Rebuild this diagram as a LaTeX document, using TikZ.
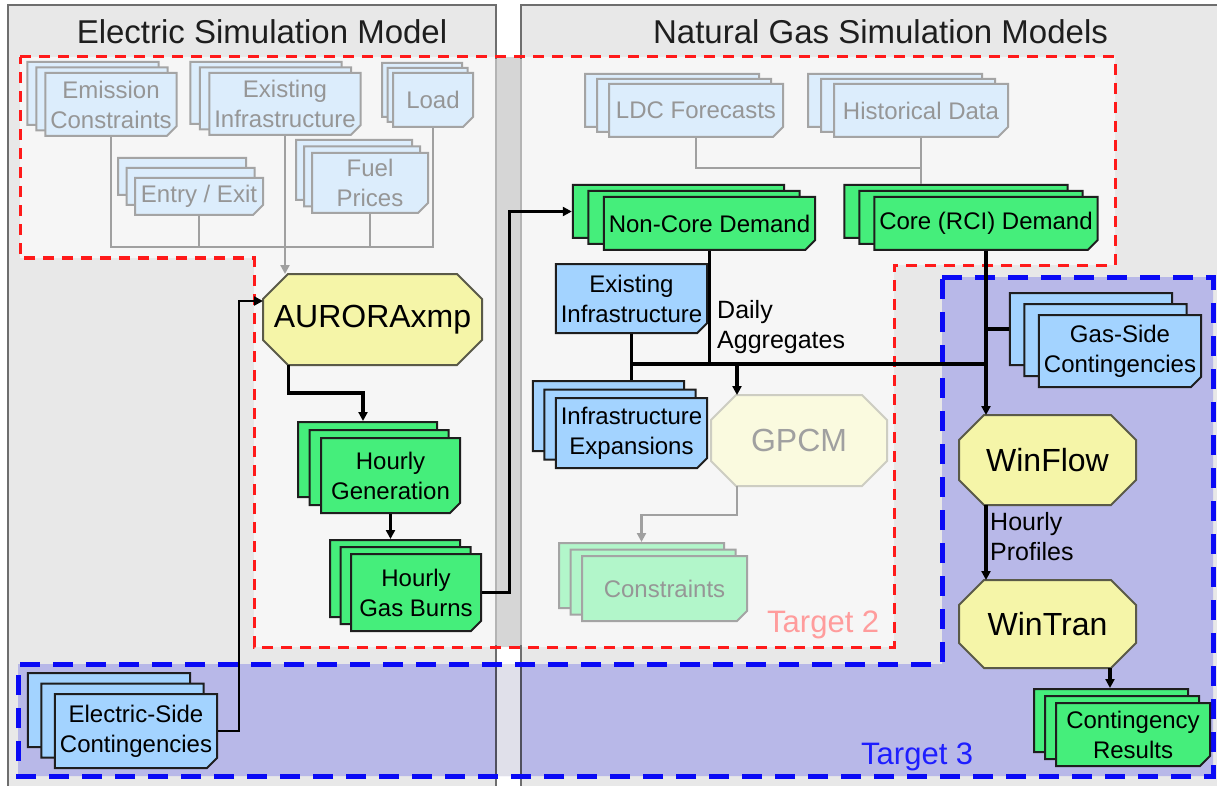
\documentclass[tikz,border=0pt]{standalone}
\usepackage{fontspec}
\setmainfont{Liberation Sans}
\usetikzlibrary{shapes.misc,shadows,arrows.meta,calc}

\definecolor{panelc}{HTML}{E8E8E8}
\definecolor{regc}{HTML}{F6F6F6}
\definecolor{bluereg}{HTML}{B8B8E8}
\definecolor{stripa}{HTML}{D6D6D6}
\definecolor{stripb}{HTML}{E0E0EA}
\definecolor{panelb}{HTML}{6E6E6E}
\definecolor{panelsoft}{HTML}{B4B4B4}
\definecolor{panelblue}{HTML}{50505E}
\definecolor{reddash}{HTML}{FF1A1A}
\definecolor{bluedash}{HTML}{0A0AF5}
\definecolor{fbfill}{HTML}{DCEDFC}
\definecolor{fbdraw}{HTML}{A4A4A4}
\definecolor{ftext}{HTML}{969696}
\definecolor{bfill}{HTML}{A3D3FF}
\definecolor{gfill}{HTML}{45EE7B}
\definecolor{fgfill}{HTML}{B2F6CA}
\definecolor{yfill}{HTML}{F5F5A8}
\definecolor{fyfill}{HTML}{FAFADF}
\definecolor{fydraw}{HTML}{CDCDC2}
\definecolor{dk}{HTML}{1E1E1E}
\definecolor{octb}{HTML}{5A5A48}
\definecolor{tgtwo}{HTML}{FF9C9C}
\definecolor{tgthree}{HTML}{1E1EFF}
\definecolor{glc}{HTML}{A0A0A0}

\newcommand\nodefont{\fontsize{24}{30}\selectfont}
\newcommand\lblfont{\fontsize{25}{30}\selectfont}
\newcommand\titlefont{\fontsize{33}{38}\selectfont}
\newcommand\octfont{\fontsize{32}{36}\selectfont}
\newcommand\tgfont{\fontsize{31}{36}\selectfont}

\pgfdeclarelayer{back}
\pgfdeclarelayer{octs}
\pgfsetlayers{back,octs,main}

% octagon drawn round a named rectangular node, chamfer 25
\newcommand\octagonof[2]{%
  \begin{pgfonlayer}{octs}
  \filldraw[#2, line width=2pt, line join=miter]
    ($(#1.north west)+(25,0)$) -- ($(#1.north east)+(-25,0)$)
    -- ($(#1.north east)+(0,25)$) -- ($(#1.south east)+(0,-25)$)
    -- ($(#1.south east)+(-25,0)$) -- ($(#1.south west)+(25,0)$)
    -- ($(#1.south west)+(0,-25)$) -- ($(#1.north west)+(0,25)$) -- cycle;
  \end{pgfonlayer}}

\tikzset{
  doc/.style={chamfered rectangle, chamfered rectangle corners=south east,
    chamfered rectangle xsep=5pt, chamfered rectangle ysep=5pt,
    inner sep=0pt, align=center, font=\nodefont, line width=2pt,
    path picture={\fill[#1] ([xshift=-5pt]path picture bounding box.south east)
      -- ([yshift=5pt]path picture bounding box.south east)
      -- ([xshift=-5pt,yshift=5pt]path picture bounding box.south east) -- cycle;}},
  stk/.style 2 args={copy shadow={shadow xshift=-2*#1pt, shadow yshift=2*#2pt},
    copy shadow={shadow xshift=-#1pt, shadow yshift=#2pt}},
  fb/.style={doc=fbdraw, fill=fbfill, draw=fbdraw, text=ftext},
  bl/.style={doc=dk, fill=bfill, draw=dk, text=black},
  gr/.style={doc=dk, fill=gfill, draw=dk, text=black},
  fg/.style={doc=fbdraw, fill=fgfill, draw=fbdraw, text=ftext},
  oct/.style={rectangle, inner sep=0pt, outer sep=0pt, font=\octfont},
  yo/.style={oct, text=black},
  fyo/.style={oct, text=ftext!90},
  yoct/.style={fill=yfill, draw=octb},
  fyoct/.style={fill=fyfill, draw=fydraw},
  gline/.style={draw=glc, line width=2.8pt},
  garrow/.style={gline, -{Triangle[length=9pt,width=9pt]}},
  bline/.style={draw=black, line width=3.2pt},
  barrow/.style={bline, -{Triangle[length=9pt,width=9pt]}},
  tarrow/.style={draw=black, line width=2.7pt, -{Triangle[length=9pt,width=9pt]}},
  lbl/.style={inner sep=0pt, align=left, font=\lblfont, text=black},
}

\begin{document}
\begin{tikzpicture}[x=1pt,y=-1pt]
\useasboundingbox (0,0) rectangle (1217,786);

\begin{pgfonlayer}{back}
\fill[white] (0,0) rectangle (1217,786);
% panels
\fill[panelc] (8,5) rectangle (496,786);
\fill[panelc] (521,5) rectangle (1217,786);
% target regions
\fill[regc] (20,57) -- (1115,57) -- (1115,265) -- (894,265) -- (894,647)
  -- (254,647) -- (254,258) -- (20,258) -- cycle;
\fill[bluereg] (942,277) -- (1213,277) -- (1213,776) -- (18,776) -- (18,664)
  -- (942,664) -- cycle;
\fill[stripa] (496,57) rectangle (521,647);
\fill[stripb] (496,664) rectangle (521,776);
% panel borders
\draw[panelb, line width=2pt] (8,786) -- (8,5) -- (496,5) -- (496,786);
\draw[panelb, line width=2pt] (521,786) -- (521,5) -- (1217,5);
\draw[panelsoft, line width=2pt] (496,59) -- (496,645) (521,59) -- (521,645);
\draw[panelblue, line width=2pt] (496,666) -- (496,774) (521,666) -- (521,774);
% dashed outlines
\draw[reddash, line width=3pt, dash pattern=on 11pt off 8pt]
  (20,57) -- (1115,57) -- (1115,265) -- (894,265) -- (894,647)
  -- (254,647) -- (254,258) -- (20,258) -- cycle;
\draw[bluedash, line width=5pt, dash pattern=on 20pt off 13pt]
  (942,277) -- (1213,277) -- (1213,776) -- (18,776) -- (18,664)
  -- (942,664) -- cycle;
\end{pgfonlayer}

% titles and labels
\node[anchor=base, font=\titlefont, text=dk, inner sep=0pt] (ttlL) at (262,44) {Electric Simulation Model};
\node[anchor=base, font=\titlefont, text=dk, inner sep=0pt] (ttlR) at (880.5,44) {Natural Gas Simulation Models};
\node[anchor=base west, font=\tgfont, text=tgtwo, inner sep=0pt] (tg2) at (767,632) {Target 2};
\node[anchor=base west, font=\tgfont, text=tgthree, inner sep=0pt] (tg3) at (861,764) {Target 3};

% electric side inputs (faded)
\node[fb, stk={9}{5.5}, minimum width=128pt, minimum height=63pt] (emis) at (111,104.5) {Emission\\Constraints};
\node[fb, stk={9.5}{5.5}, minimum width=146pt, minimum height=62pt] (exinfL) at (285,104) {Existing\\Infrastructure};
\node[fb, stk={5.5}{5}, minimum width=80pt, minimum height=54pt] (load) at (433,100) {Load};
\node[fb, stk={8.5}{10}, minimum width=128pt, minimum height=37pt] (entry) at (199,196.5) {Entry / Exit};
\node[fb, stk={8}{6.5}, minimum width=116pt, minimum height=60pt] (fuel) at (370,183) {Fuel\\Prices};

% electric model
\node[yo, minimum width=219pt, minimum height=91pt] (aurora) at (372.5,319.5) {AURORAxmp};
\octagonof{aurora}{yoct}
\node[gr, stk={11.5}{8}, minimum width=139pt, minimum height=75pt] (hgen) at (390.5,475.5) {Hourly\\Generation};
\node[gr, stk={10.5}{7}, minimum width=130pt, minimum height=77pt] (hburn) at (416,592.5) {Hourly\\Gas Burns};
\node[bl, stk={13.5}{10.5}, minimum width=158pt, minimum height=74pt] (elec) at (136,731) {Electric-Side\\Contingencies};

% gas side
\node[fb, stk={12}{5}, minimum width=174pt, minimum height=53pt] (ldc) at (696,110.5) {LDC Forecasts};
\node[fb, stk={13}{5}, minimum width=174pt, minimum height=53pt] (hist) at (921,110.5) {Historical Data};
\node[gr, stk={15.5}{6}, minimum width=211pt, minimum height=53pt] (noncore) at (709.5,223.5) {Non-Core Demand};
\node[gr, stk={15}{6}, minimum width=220pt, minimum height=53pt] (core) at (986,223.5) {Core (RCI) Demand};
\node[bl, minimum width=145pt, minimum height=69pt] (exinfR) at (631.5,298.5) {Existing\\Infrastructure};
\node[bl, stk={11.5}{8.5}, minimum width=145pt, minimum height=70pt] (infexp) at (631.5,433) {Infrastructure\\Expansions};
\node[fyo, minimum width=176pt, minimum height=91pt] (gpcm) at (799,440.5) {GPCM};
\octagonof{gpcm}{fyoct}
\node[fg, stk={11.5}{6.5}, minimum width=165pt, minimum height=65pt] (constr) at (664.5,588.5) {Constraints};
\node[bl, stk={14.5}{11}, minimum width=156pt, minimum height=72pt] (gasside) at (1120,351) {Gas-Side\\Contingencies};
\node[yo, minimum width=177pt, minimum height=90pt] (winflow) at (1047.5,460) {WinFlow};
\octagonof{winflow}{yoct}
\node[yo, minimum width=177pt, minimum height=88pt] (wintran) at (1047.5,624) {WinTran};
\octagonof{wintran}{yoct}
\node[gr, stk={11}{7}, minimum width=154pt, minimum height=63pt] (contres) at (1133,734.5) {Contingency\\Results};

\node[lbl, anchor=north west] (daily) at (717,300) {Daily\\Aggregates};
\node[lbl, anchor=north west] (hprof) at (990,512) {Hourly\\Profiles};

% electric side connectors
\coordinate (eb) at ($(exinfL.south)+(0,111)$);
\draw[gline] (emis.south) |- (eb) -| (load.south);
\draw[gline] (entry.south) -- (entry.south |- eb);
\draw[gline] (fuel.south) -- (fuel.south |- eb);
\draw[gline] (exinfL.south) -- (eb);
\draw[garrow] (eb) -- (eb |- aurora.north);

\coordinate (hgtop) at ($(hgen.north)+(-27.5,-16)$);
\draw[barrow] ($(aurora.south)+(-84,0)$) |- ($(hgtop)+(0,-28)$) -- (hgtop);
\draw[barrow] (hgen.south) -- ($(hgen.south |- hburn.north)+(0,-14)$);
\draw[tarrow] (hburn.east) -| ($(noncore.west)+(-93,-12)$) -- ($(noncore.west)+(-31,-12)$);
\draw[tarrow] (elec.east) -| ($(aurora.west)+(-24,-18.5)$) -- ($(aurora.west)+(0,-18.5)$);

% gas side connectors
\coordinate (gj) at ($(hist.south)+(0,30)$);
\draw[gline] (ldc.south) |- (gj);
\draw[gline] (hist.south) -- ($(hist.south |- core.north)+(0,-12)$);

\coordinate (busR) at ($(core.south)+(0,113)$);
\draw[bline] (noncore.south) -- (noncore.south |- busR);
\draw[bline] (exinfR.south) -- ($(exinfR.south |- infexp.north)+(0,-17)$);
\draw[bline] (exinfR.south |- busR) -- (busR);
\draw[barrow] (core.south) -- (core.south |- winflow.north);
\coordinate (gsb) at ($(gasside.west)+(-29,-22)$);
\draw[bline] (gsb) -- (core.south |- gsb);
\coordinate (gp) at ($(gpcm.north)+(-62,0)$);
\draw[barrow] (gp |- busR) -- (gp);
\coordinate (gps) at ($(gpcm.south)+(-62,0)$);
\coordinate (ct) at ($(constr.north)+(-23,-13)$);
\draw[garrow] (gps) -- ($(gps)+(0,29)$) -| (ct);
\draw[barrow] ($(winflow.south)+(-61.5,0)$) -- ($(wintran.north)+(-61.5,0)$);
\draw[barrow] ($(wintran.south)+(62.5,0)$) -- ($(contres.north)+(-23,-14)$);
\end{tikzpicture}
\end{document}
